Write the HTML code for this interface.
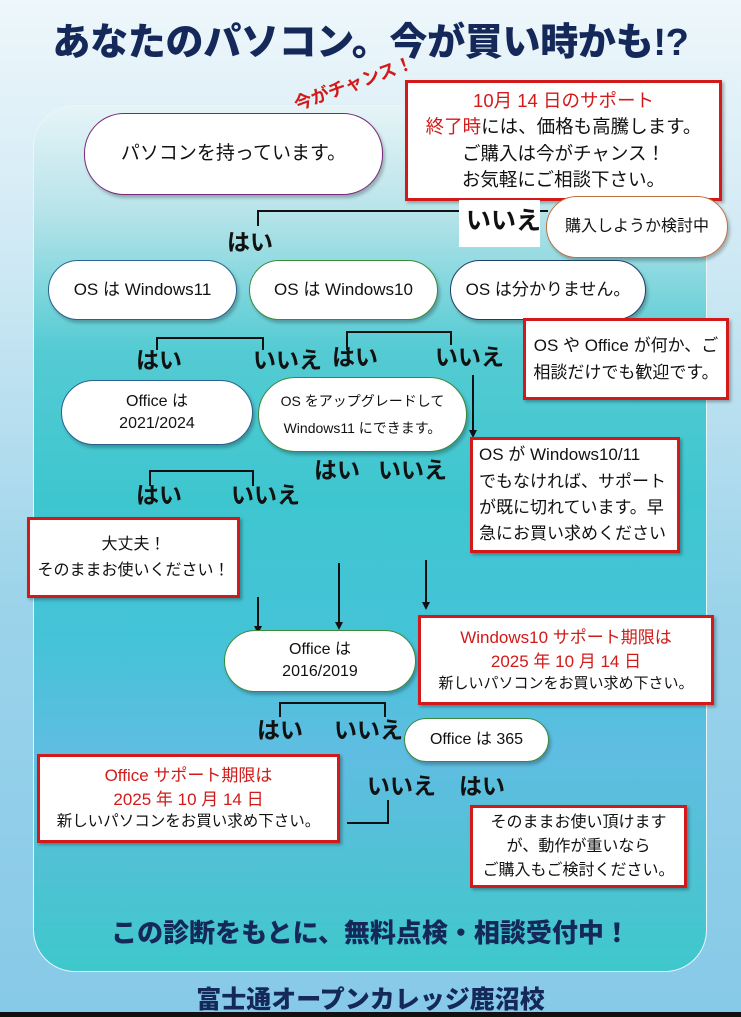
<!DOCTYPE html>
<html><head><meta charset="utf-8"><style>
*{margin:0;padding:0;box-sizing:border-box}
body{width:741px;height:1017px;position:relative;overflow:hidden;font-family:"Liberation Sans","Noto Sans CJK JP",sans-serif;background:linear-gradient(180deg,#eef7fb 0%,#cfe9f4 25%,#9bd3ea 60%,#86c9e8 100%);}
.abs{position:absolute}
.panel{position:absolute;left:33px;top:105px;width:674px;height:867px;border-radius:42px;border:1.5px solid #e8f6fa;background:linear-gradient(180deg,#e6f4f7 0%,#b8e4ea 12%,#55cbd3 28%,#3ec6cf 45%,#45c3d8 62%,#60bde2 75%,#50c2d4 88%,#3ec8cc 100%);}
.pill{position:absolute;background:#fff;border-radius:40px;border:1.5px solid;display:flex;align-items:center;justify-content:center;text-align:center;font-size:17px;color:#111;line-height:1.35;box-shadow:2px 3px 3px rgba(0,0,0,.25)}
.red{position:absolute;background:#fff;border:3px solid #d21a1a;display:flex;flex-direction:column;align-items:center;justify-content:center;text-align:center;font-size:17px;color:#111;line-height:1.5;box-shadow:2px 2px 3px rgba(0,0,0,.3)}
.lbl{position:absolute;font-weight:bold;font-size:23px;color:#111;line-height:1}
.r{color:#d21a1a}
h1{position:absolute;left:0;width:741px;top:21px;text-align:center;font-size:38px;font-weight:900;color:#14285a;letter-spacing:-0.3px;line-height:1.2}
</style></head><body>
<h1>あなたのパソコン。今が買い時かも!?</h1>
<div class="panel"></div>

<svg class="abs" style="left:0;top:0" width="741" height="1017">
<g stroke="#111" stroke-width="2" fill="none">
<path d="M258,226 V211 H548"/>
<path d="M157,350 V338 H263 V350"/>
<path d="M347,350 V332 H451 V345"/>
<path d="M150,486 V471 H253 V486"/>
<path d="M280,717 V703 H385 V717"/>
<path d="M347,823 H388 V800"/>
<path d="M473,375 V432"/>
<path d="M258,597 V628"/>
<path d="M339,563 V624"/>
<path d="M426,560 V604"/>
</g>
<g fill="#111">
<path d="M469,430 L477,430 L473,438 z"/>
<path d="M254,626 L262,626 L258,634 z"/>
<path d="M335,622 L343,622 L339,630 z"/>
<path d="M422,602 L430,602 L426,610 z"/>
</g>
</svg>

<div class="red" style="left:405px;top:80px;width:317px;height:121px;font-size:18.5px;line-height:1.42"><div class="r">10月 14 日のサポート</div><div><span class="r">終了時</span>には、価格も高騰します。</div><div>ご購入は今がチャンス！</div><div>お気軽にご相談下さい。</div></div>

<div class="pill" style="left:84px;top:113px;width:299px;height:82px;border-color:#7a2a7a;font-size:19px">パソコンを持っています。</div>

<div class="abs r" style="left:290px;top:92px;font-size:18px;font-weight:bold;transform:rotate(-20deg);transform-origin:left top;z-index:5">今がチャンス！</div>

<div class="abs" style="left:459px;top:200px;width:81px;height:47px;background:#fff"></div>
<div class="lbl" style="left:466px;top:209px;font-size:25px">いいえ</div>
<div class="lbl" style="left:227px;top:231px">はい</div>
<div class="pill" style="left:546px;top:196px;width:182px;height:62px;border-color:#c07040;font-size:16px">購入しようか検討中</div>

<div class="pill" style="left:48px;top:260px;width:189px;height:60px;border-color:#2a6090">OS は Windows11</div>
<div class="pill" style="left:249px;top:260px;width:189px;height:60px;border-color:#3a8a3a">OS は Windows10</div>
<div class="pill" style="left:450px;top:260px;width:196px;height:60px;border-color:#1e3f66">OS は分かりません。</div>

<div class="red" style="left:523px;top:318px;width:206px;height:82px;line-height:1.6"><div>OS や Office が何か、ご</div><div>相談だけでも歓迎です。</div></div>

<div class="lbl" style="left:136px;top:349px">はい</div>
<div class="lbl" style="left:253px;top:349px">いいえ</div>
<div class="lbl" style="left:332px;top:346px">はい</div>
<div class="lbl" style="left:435px;top:346px">いいえ</div>

<div class="pill" style="left:61px;top:380px;width:192px;height:65px;border-color:#2a6090;font-size:16px">Office は<br>2021/2024</div>
<div class="pill" style="left:258px;top:377px;width:209px;height:75px;border-color:#3a8a3a;font-size:14px;line-height:1.9">OS をアップグレードして<br>Windows11 にできます。</div>

<div class="red" style="left:470px;top:437px;width:210px;height:116px;line-height:1.55;align-items:flex-start;padding-left:6px"><div>OS が Windows10/11</div><div>でもなければ、サポート</div><div>が既に切れています。早</div><div>急にお買い求めください</div></div>

<div class="lbl" style="left:314px;top:459px">はい</div>
<div class="lbl" style="left:378px;top:459px">いいえ</div>
<div class="lbl" style="left:136px;top:484px">はい</div>
<div class="lbl" style="left:231px;top:484px">いいえ</div>

<div class="red" style="left:27px;top:517px;width:213px;height:81px;line-height:1.6;font-size:16px"><div>大丈夫！</div><div>そのままお使いください！</div></div>

<div class="pill" style="left:224px;top:630px;width:192px;height:62px;border-color:#3a8a3a;font-size:16px">Office は<br>2016/2019</div>

<div class="red" style="left:418px;top:615px;width:296px;height:90px;line-height:1.4"><div class="r">Windows10 サポート期限は</div><div class="r">2025 年 10 月 14 日</div><div style="font-size:15px">新しいパソコンをお買い求め下さい。</div></div>

<div class="lbl" style="left:257px;top:719px">はい</div>
<div class="lbl" style="left:334px;top:719px">いいえ</div>
<div class="pill" style="left:404px;top:718px;width:145px;height:44px;border-color:#3a8a3a;font-size:16px">Office は 365</div>

<div class="red" style="left:37px;top:754px;width:303px;height:89px;line-height:1.4"><div class="r">Office サポート期限は</div><div class="r">2025 年 10 月 14 日</div><div style="font-size:15.5px">新しいパソコンをお買い求め下さい。</div></div>

<div class="lbl" style="left:367px;top:775px">いいえ</div>
<div class="lbl" style="left:459px;top:775px">はい</div>

<div class="red" style="left:470px;top:805px;width:217px;height:83px;line-height:1.5;font-size:16px"><div>そのままお使い頂けます</div><div>が、動作が重いなら</div><div>ご購入もご検討ください。</div></div>

<div class="abs" style="left:0;width:741px;top:913px;text-align:center;font-size:26px;font-weight:900;color:#14285a">この診断をもとに、無料点検・相談受付中！</div>
<div class="abs" style="left:0;width:741px;top:980px;text-align:center;font-size:25px;font-weight:900;color:#14285a">富士通オープンカレッジ鹿沼校</div>
<div class="abs" style="left:0;top:1012px;width:741px;height:5px;background:#111"></div>
</body></html>
